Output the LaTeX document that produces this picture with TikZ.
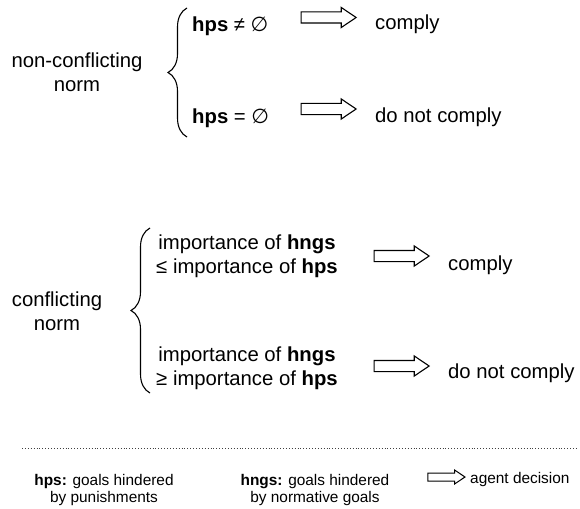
\documentclass[tikz,border=0pt]{standalone}
\usepackage{fontspec}
\setmainfont{Liberation Sans}
\newfontfamily\symfont{DejaVu Sans}
\usetikzlibrary{decorations.pathreplacing,shapes.arrows,positioning}

\newcommand{\leeg}{{\symfont ∅}}

\begin{document}
\begin{tikzpicture}[x=1pt,y=-1pt]
\tikzstyle{txt} = [inner sep=0pt, font=\fontsize{20.3pt}{24pt}\selectfont]
\tikzstyle{leg} = [inner sep=0pt, font=\fontsize{15.4pt}{17pt}\selectfont]
\tikzstyle{blok} = [single arrow, draw, fill=white, line width=1.1pt, inner sep=0pt, inner ysep=5pt, minimum height=55pt, single arrow head extend=4.5pt, single arrow tip angle=68]
\tikzstyle{accolade} = [decorate, decoration={brace, amplitude=19pt}, line width=1.1pt]

\useasboundingbox (0,0) rectangle (580,508);

% non-conflicting norm
\node [txt, align=center, anchor=base] (noncon) at (77,92) {non-conflicting\\norm};
\coordinate (b1top) at (187,8);
\coordinate (b1bot) at (187,137);
\draw [accolade] (b1bot) -- (b1top);

\node [txt, anchor=base west] (hpsne) at (192,32) {\textbf{hps} ≠ \leeg};
\node [blok] (pijl1) at (324.5,17.5) {};
\node [txt, anchor=base west] (comply1) at (375,30) {comply};

\node [txt, anchor=base west] (hpseq) at (192,123) {\textbf{hps} = \leeg};
\node [blok] (pijl2) at (324.5,109) {};
\node [txt, anchor=base west] (notcomply1) at (375,122) {do not comply};

% conflicting norm
\node [txt, align=center, anchor=base] (con) at (57,330) {conflicting\\norm};
\coordinate (b2top) at (150,228);
\coordinate (b2bot) at (150,393);
\draw [accolade] (b2bot) -- (b2top);

\node [txt, align=center, anchor=base] (lower) at (247,273) {importance of \textbf{hngs}\\≤ importance of \textbf{hps}};
\node [blok] (pijl3) at (397.5,256) {};
\node [txt, anchor=base west] (comply2) at (448,270) {comply};

\node [txt, align=center, anchor=base] (higher) at (247,385) {importance of \textbf{hngs}\\≥ importance of \textbf{hps}};
\node [blok] (pijl4) at (397.5,366) {};
\node [txt, anchor=base west] (notcomply2) at (448,378) {do not comply};

% legend
\coordinate (lijnl) at (22,448);
\coordinate (lijnr) at (578,448);
\draw [dotted, line width=0.9pt, black!75] (lijnl) -- (lijnr);

\node [leg, align=center, anchor=base] (leghps) at (104,502) {\textbf{hps:} goals hindered\\by punishments};
\node [leg, align=center, anchor=base] (leghngs) at (315,502) {\textbf{hngs:} goals hindered\\by normative goals};
\node [blok, line width=1pt, inner ysep=3.5pt, minimum height=37pt, single arrow head extend=3pt] (legpijl) at (443.5,477) {};
\node [leg, anchor=base west] (agent) at (470,483) {agent decision};
\end{tikzpicture}
\end{document}
